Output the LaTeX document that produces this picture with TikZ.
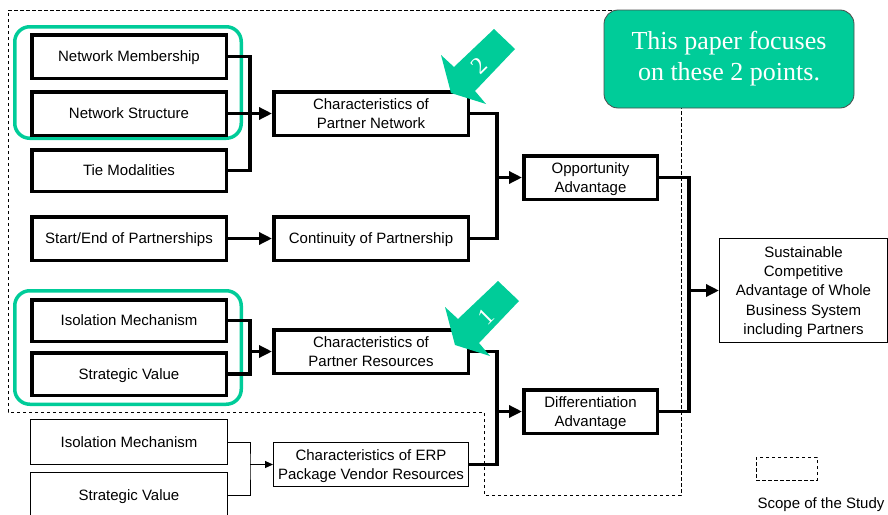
\documentclass[tikz,border=0pt]{standalone}
\usepackage{fontspec}
\setmainfont{Liberation Serif}
\setsansfont{Liberation Sans}
\usetikzlibrary{arrows.meta}
\definecolor{tealgreen}{RGB}{0,204,153}
\begin{document}
\begin{tikzpicture}[x=1pt,y=-1pt,
  lbl/.style={font=\sffamily\fontsize{15}{19.2}\selectfont, align=center, inner sep=0pt, text depth=0pt},
  thickbox/.style={lbl, draw, line width=3.5pt, minimum width=194.5pt, minimum height=43.5pt},
  thinbox/.style={lbl, draw, line width=1pt, minimum width=197pt, minimum height=45pt},
  thickline/.style={line width=3.5pt},
  thickarrow/.style={line width=3.5pt, -{Triangle[length=13pt,width=12pt]}},
  thinline/.style={line width=1pt},
  thinarrow/.style={line width=1pt, -{Triangle[length=8pt,width=7pt]}},
  scopeline/.style={line width=0.9pt, dash pattern=on 3.5pt off 2.5pt},
  focusring/.style={draw=tealgreen, line width=3.5pt, rounded corners=15pt, inner sep=0pt},
  pointer/.style={fill=tealgreen},
  digit/.style={text=white, font=\rmfamily\fontsize{24}{24}\selectfont, rotate=45, inner sep=0pt}
]
\useasboundingbox (0,0) rectangle (888,514);

% scope of the study
\draw[scopeline] (8,10) -- (681,10) -- (681,495) -- (484,495) -- (484,412) -- (8,412) -- cycle;

% focus rings
\node[focusring, minimum width=226.5pt, minimum height=111.5pt] (ring1) at (128,82.5) {};
\node[focusring, minimum width=226.5pt, minimum height=113.5pt] (ring2) at (128,347.5) {};

% left column
\node[thickbox] (nm) at (129,56.5) {Network Membership};
\node[thickbox] (ns) at (129,113.5) {Network Structure};
\node[thickbox, minimum height=41.5pt] (tm) at (129,170.5) {Tie Modalities};
\node[thickbox] (se) at (129,238.5) {Start/End of Partnerships};
\node[thickbox, minimum height=41.5pt] (im1) at (129,320.5) {Isolation Mechanism};
\node[thickbox, minimum height=42.5pt] (sv1) at (129,374) {Strategic Value};
\node[thinbox] (im2) at (129,442) {Isolation Mechanism};
\node[thinbox] (sv2) at (129,495) {Strategic Value};

% second column
\node[thickbox] (cpn) at (371,113.5) {Characteristics of\\Partner Network};
\node[thickbox] (cp) at (371,238.5) {Continuity of Partnership};
\node[thickbox] (cpr) at (371,351.5) {Characteristics of\\Partner Resources};
\node[thinbox, minimum width=195pt, minimum height=44pt] (erp) at (371,464.5) {Characteristics of ERP\\Package Vendor Resources};

% third column
\node[thickbox, minimum width=133.5pt] (oa) at (590.5,177.5) {Opportunity\\Advantage};
\node[thickbox, minimum width=133.5pt] (da) at (590.5,411.5) {Differentiation\\Advantage};

% result
\node[thinbox, minimum width=168pt, minimum height=104pt] (sca) at (803.5,290.5) {Sustainable\\Competitive\\Advantage of Whole\\Business System\\including Partners};

% junctions
\coordinate (j1) at (250,113.5);
\coordinate (j2) at (497,177.5);
\coordinate (j3) at (689,290.5);
\coordinate (j4) at (250,351.5);
\coordinate (j5) at (497,411.5);
\coordinate (j6) at (250,464.5);

% connectors
\draw[thickline] (nm.east) -| (j1) |- (tm.east);
\draw[thickarrow] (ns.east) -- (cpn.west);
\draw[thickarrow] (se.east) -- (cp.west);
\draw[thickline] (cpn.east) -| (j2) |- (cp.east);
\draw[thickarrow] (j2) -- (oa.west);
\draw[thickline] (oa.east) -| (j3) |- (da.east);
\draw[thickarrow] (j3) -- (sca.west);
\draw[thickline] (im1.east) -| (j4) |- (sv1.east);
\draw[thickarrow] (j4) -- (cpr.west);
\draw[thickline] (cpr.east) -| (j5) |- (erp.east);
\draw[thickarrow] (j5) -- (da.west);
\draw[thinline] (im2.east) -| (j6) |- (sv2.east);
\draw[thinarrow] (j6) -- (erp.west);

% callout
\node[draw=black!70, line width=0.8pt, fill=tealgreen, rounded corners=14pt,
      minimum width=250pt, minimum height=98pt, inner sep=0pt, align=center,
      text=white, font=\rmfamily\fontsize{26}{31}\selectfont] (callout) at (729,59)
      {This paper focuses\\on these 2 points.};

% pointer arrows
\fill[pointer] (451,93) -- ++(-10,-38) -- ++(13,12) -- ++(40,-38) -- ++(21,20) -- ++(-40,42) -- ++(11,13) -- cycle;
\node[digit] (d2) at (479,66) {2};
\fill[pointer] (455,345) -- ++(-10,-38) -- ++(13,12) -- ++(40,-38) -- ++(21,20) -- ++(-40,42) -- ++(11,13) -- cycle;
\node[digit] (d1) at (486,317) {1};

% legend
\node[draw, scopeline, minimum width=61pt, minimum height=23pt, inner sep=0pt] (legendbox) at (786.5,468.5) {};
\node[lbl] (legendtext) at (821,503) {Scope of the Study};
\end{tikzpicture}
\end{document}
